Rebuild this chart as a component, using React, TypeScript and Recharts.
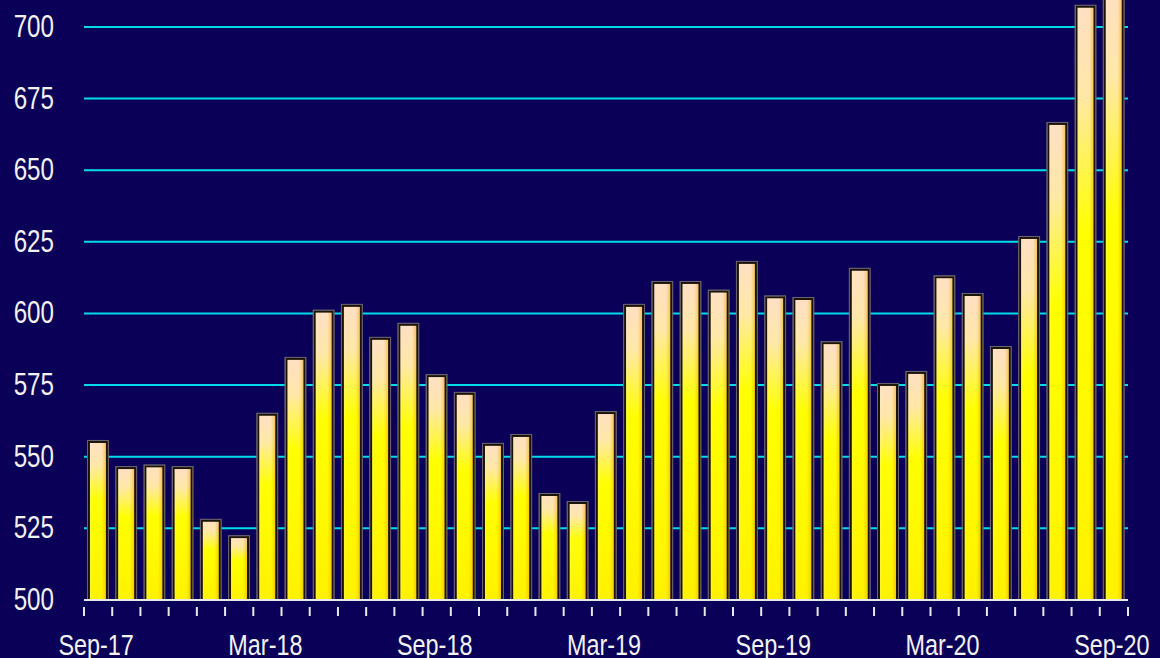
import React from 'react';
import { BarChart, Bar, XAxis, YAxis, CartesianGrid } from 'recharts';

const months = [
  'Sep-17', 'Oct-17', 'Nov-17', 'Dec-17', 'Jan-18', 'Feb-18', 'Mar-18', 'Apr-18', 'May-18',
  'Jun-18', 'Jul-18', 'Aug-18', 'Sep-18', 'Oct-18', 'Nov-18', 'Dec-18', 'Jan-19', 'Feb-19',
  'Mar-19', 'Apr-19', 'May-19', 'Jun-19', 'Jul-19', 'Aug-19', 'Sep-19', 'Oct-19', 'Nov-19',
  'Dec-19', 'Jan-20', 'Feb-20', 'Mar-20', 'Apr-20', 'May-20', 'Jun-20', 'Jul-20', 'Aug-20',
  'Sep-20',
];

const values = [
  555.5, 546.4, 547, 546.4, 528, 522.3, 565, 584.5, 601,
  603, 591.5, 596.4, 578.5, 572.3, 554.5, 557.6, 537, 534.2,
  565.6, 603, 611, 611, 608, 618, 606, 605.4, 590,
  615.6, 575.4, 579.6, 613, 606.8, 588.3, 626.7, 666.5, 707.4,
  715,
];

const shownLabels = ['Sep-17', 'Mar-18', 'Sep-18', 'Mar-19', 'Sep-19', 'Mar-20', 'Sep-20'];
const yTicks = [500, 525, 550, 575, 600, 625, 650, 675, 700];

const data = months.map((m, i) => ({ month: m, value: values[i] }));

const BG = '#0b0057';
const TEXT = '#f2f2f2';
const FONT = '"Liberation Sans", Arial, sans-serif';
const BAND = 1044 / months.length;
const SX = 0.78;

const BarShape = (props: any) => {
  const { x, y, width, height } = props;
  if (!height || height <= 0) return null;
  return (
    <g>
      <rect x={x} y={y} width={width} height={height} fill="url(#vGrad)" />
      <rect x={x} y={y} width={width} height={height} fill="url(#hGrad)" />
      <rect x={x + 1} y={y + 1} width={width - 2} height={height - 1} fill="none" stroke="#1a1408" strokeWidth={2} />
      <rect x={x - 0.5} y={y - 0.5} width={width + 1} height={height + 0.5} fill="none" stroke="#6b6470" strokeWidth={1} />
    </g>
  );
};

const MonthTick = (props: any) => {
  const { x, y, payload, index } = props;
  const last = index === months.length - 1;
  return (
    <g>
      <line x1={x - BAND / 2} y1={y - 1} x2={x - BAND / 2} y2={y + 8} stroke="#e8e8e8" strokeWidth={2} />
      {last && (
        <line x1={x + BAND / 2} y1={y - 1} x2={x + BAND / 2} y2={y + 8} stroke="#e8e8e8" strokeWidth={2} />
      )}
      {shownLabels.includes(payload.value) && (
        <text
          transform={`translate(${x - 2},${y + 47}) scale(${SX},1)`}
          textAnchor="middle"
          fill={TEXT}
          fontSize={30}
          fontFamily={FONT}
        >
          {payload.value}
        </text>
      )}
    </g>
  );
};

const ValueTick = (props: any) => {
  const { y, payload } = props;
  return (
    <text
      transform={`translate(54,${y + 10}) scale(${SX},1)`}
      textAnchor="end"
      fill={TEXT}
      fontSize={31}
      fontFamily={FONT}
    >
      {payload.value}
    </text>
  );
};

export default function App() {
  return (
    <div style={{ position: 'fixed', left: 0, top: 0, width: 1160, height: 658, background: BG }}>
      <BarChart
        width={1160}
        height={658}
        data={data}
        margin={{ top: 0, right: 32, left: 0, bottom: 0 }}
        barCategoryGap="14%"
      >
        <defs>
          <linearGradient id="vGrad" x1="0" y1="0" x2="0" y2="1">
            <stop offset="0%" stopColor="#ffdfc4" />
            <stop offset="15%" stopColor="#ffe8a8" />
            <stop offset="38%" stopColor="#ffff00" />
            <stop offset="100%" stopColor="#fff200" />
          </linearGradient>
          <linearGradient id="hGrad" x1="0" y1="0" x2="1" y2="0">
            <stop offset="0%" stopColor="#fff0d0" stopOpacity={0.6} />
            <stop offset="20%" stopColor="#fff0d0" stopOpacity={0} />
            <stop offset="68%" stopColor="#f0b000" stopOpacity={0} />
            <stop offset="100%" stopColor="#e89000" stopOpacity={0.7} />
          </linearGradient>
        </defs>
        <CartesianGrid
          horizontal
          vertical={false}
          horizontalValues={yTicks}
          stroke="#00dcea"
          strokeWidth={2}
        />
        <XAxis
          dataKey="month"
          interval={0}
          height={58}
          tickLine={false}
          axisLine={{ stroke: '#e8e8e8', strokeWidth: 2 }}
          tick={<MonthTick />}
        />
        <YAxis
          domain={[500, 709.4]}
          ticks={yTicks}
          allowDataOverflow
          width={84}
          axisLine={false}
          tickLine={false}
          tick={<ValueTick />}
        />
        <Bar dataKey="value" shape={<BarShape />} isAnimationActive={false} />
      </BarChart>
    </div>
  );
}
